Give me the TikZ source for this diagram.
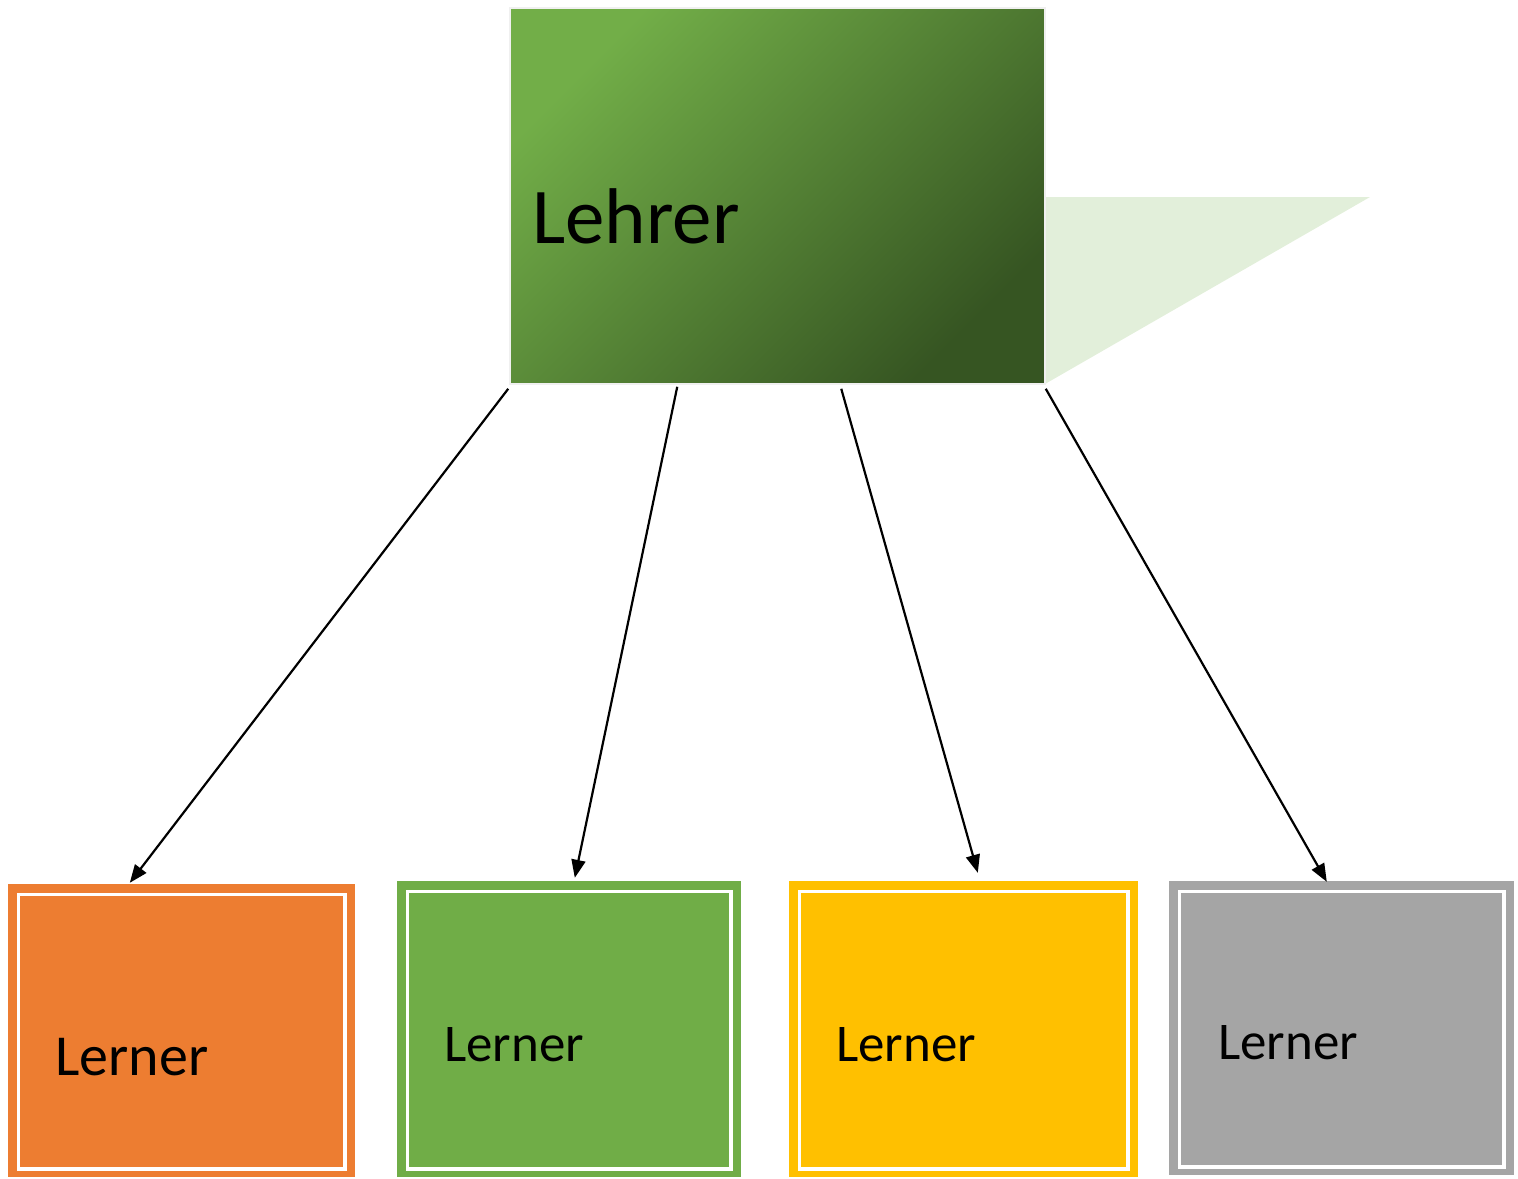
\documentclass[tikz,border=0pt]{standalone}
\usepackage{fontspec}
\setmainfont{Carlito}
\usetikzlibrary{arrows.meta,calc}
\definecolor{lgreen}{HTML}{72AE48}
\definecolor{dgreen}{HTML}{365522}
\definecolor{shadowgreen}{HTML}{E2EFDA}
\definecolor{orangebox}{HTML}{ED7D31}
\definecolor{greenbox}{HTML}{70AD47}
\definecolor{yellowbox}{HTML}{FFC000}
\definecolor{graybox}{HTML}{A5A5A5}
\begin{document}
\begin{tikzpicture}[x=1pt,y=-1pt,
  lernerbox/.style={rectangle,inner sep=0pt,draw=none},
  innerline/.style={draw=white,line width=3.6pt},
  conn/.style={line width=2.2pt,-{Triangle[length=18pt,width=14pt]}},
  lernertext/.style={anchor=base west,inner sep=0pt,font=\fontsize{53}{60}\selectfont}]
\useasboundingbox (0,0) rectangle (1518,1178);
% shadow
\fill[shadowgreen] (1045,197) -- (1370,197) -- (1045,384) -- cycle;
% teacher box
\node[rectangle,inner sep=0pt,minimum width=535pt,minimum height=376pt,
  shading=axis,top color=lgreen,bottom color=dgreen,shading angle=45,
  draw={rgb,255:red,240;green,240;blue,240},line width=1.5pt] (L) at (777.5,196) {};
\node[anchor=base west,inner sep=0pt,font=\fontsize{79}{90}\selectfont] (Lt) at (532,243) {Lehrer};
% learner boxes
\node[lernerbox,fill=orangebox,minimum width=347pt,minimum height=293pt] (b1) at (181.5,1030.5) {};
\node[lernerbox,fill=greenbox,minimum width=344pt,minimum height=296pt] (b2) at (569,1029) {};
\node[lernerbox,fill=yellowbox,minimum width=349pt,minimum height=296pt] (b3) at (963.5,1029) {};
\node[lernerbox,fill=graybox,minimum width=345pt,minimum height=294pt] (b4) at (1341.5,1028) {};
\foreach \b in {b1,b2,b3,b4}{
  \draw[innerline] ($(\b.north west)+(10.5,10.5)$) rectangle ($(\b.south east)+(-10.5,-8.5)$);
}
\node[lernertext,font=\fontsize{58}{64}\selectfont] (t1) at (55,1075) {Lerner};
\node[lernertext] (t2) at (444,1061) {Lerner};
\node[lernertext] (t3) at (836,1061) {Lerner};
\node[lernertext] (t4) at (1218,1059) {Lerner};
% connectors
\coordinate (s1) at ($(L.south west)+(-1,4)$);
\coordinate (s2) at ($(L.south west)+(168,2)$);
\coordinate (s3) at ($(L.south west)+(332,4)$);
\coordinate (s4) at ($(L.south east)+(0,4)$);
\coordinate (e1) at ($(b1.north west)+(122,-1)$);
\coordinate (e2) at ($(b2.north west)+(178,-3)$);
\coordinate (e3) at ($(b3.north west)+(189,-8)$);
\coordinate (e4) at ($(b4.north west)+(158,1)$);
\draw[conn] (s1) -- (e1);
\draw[conn] (s2) -- (e2);
\draw[conn] (s3) -- (e3);
\draw[conn] (s4) -- (e4);
\end{tikzpicture}
\end{document}
